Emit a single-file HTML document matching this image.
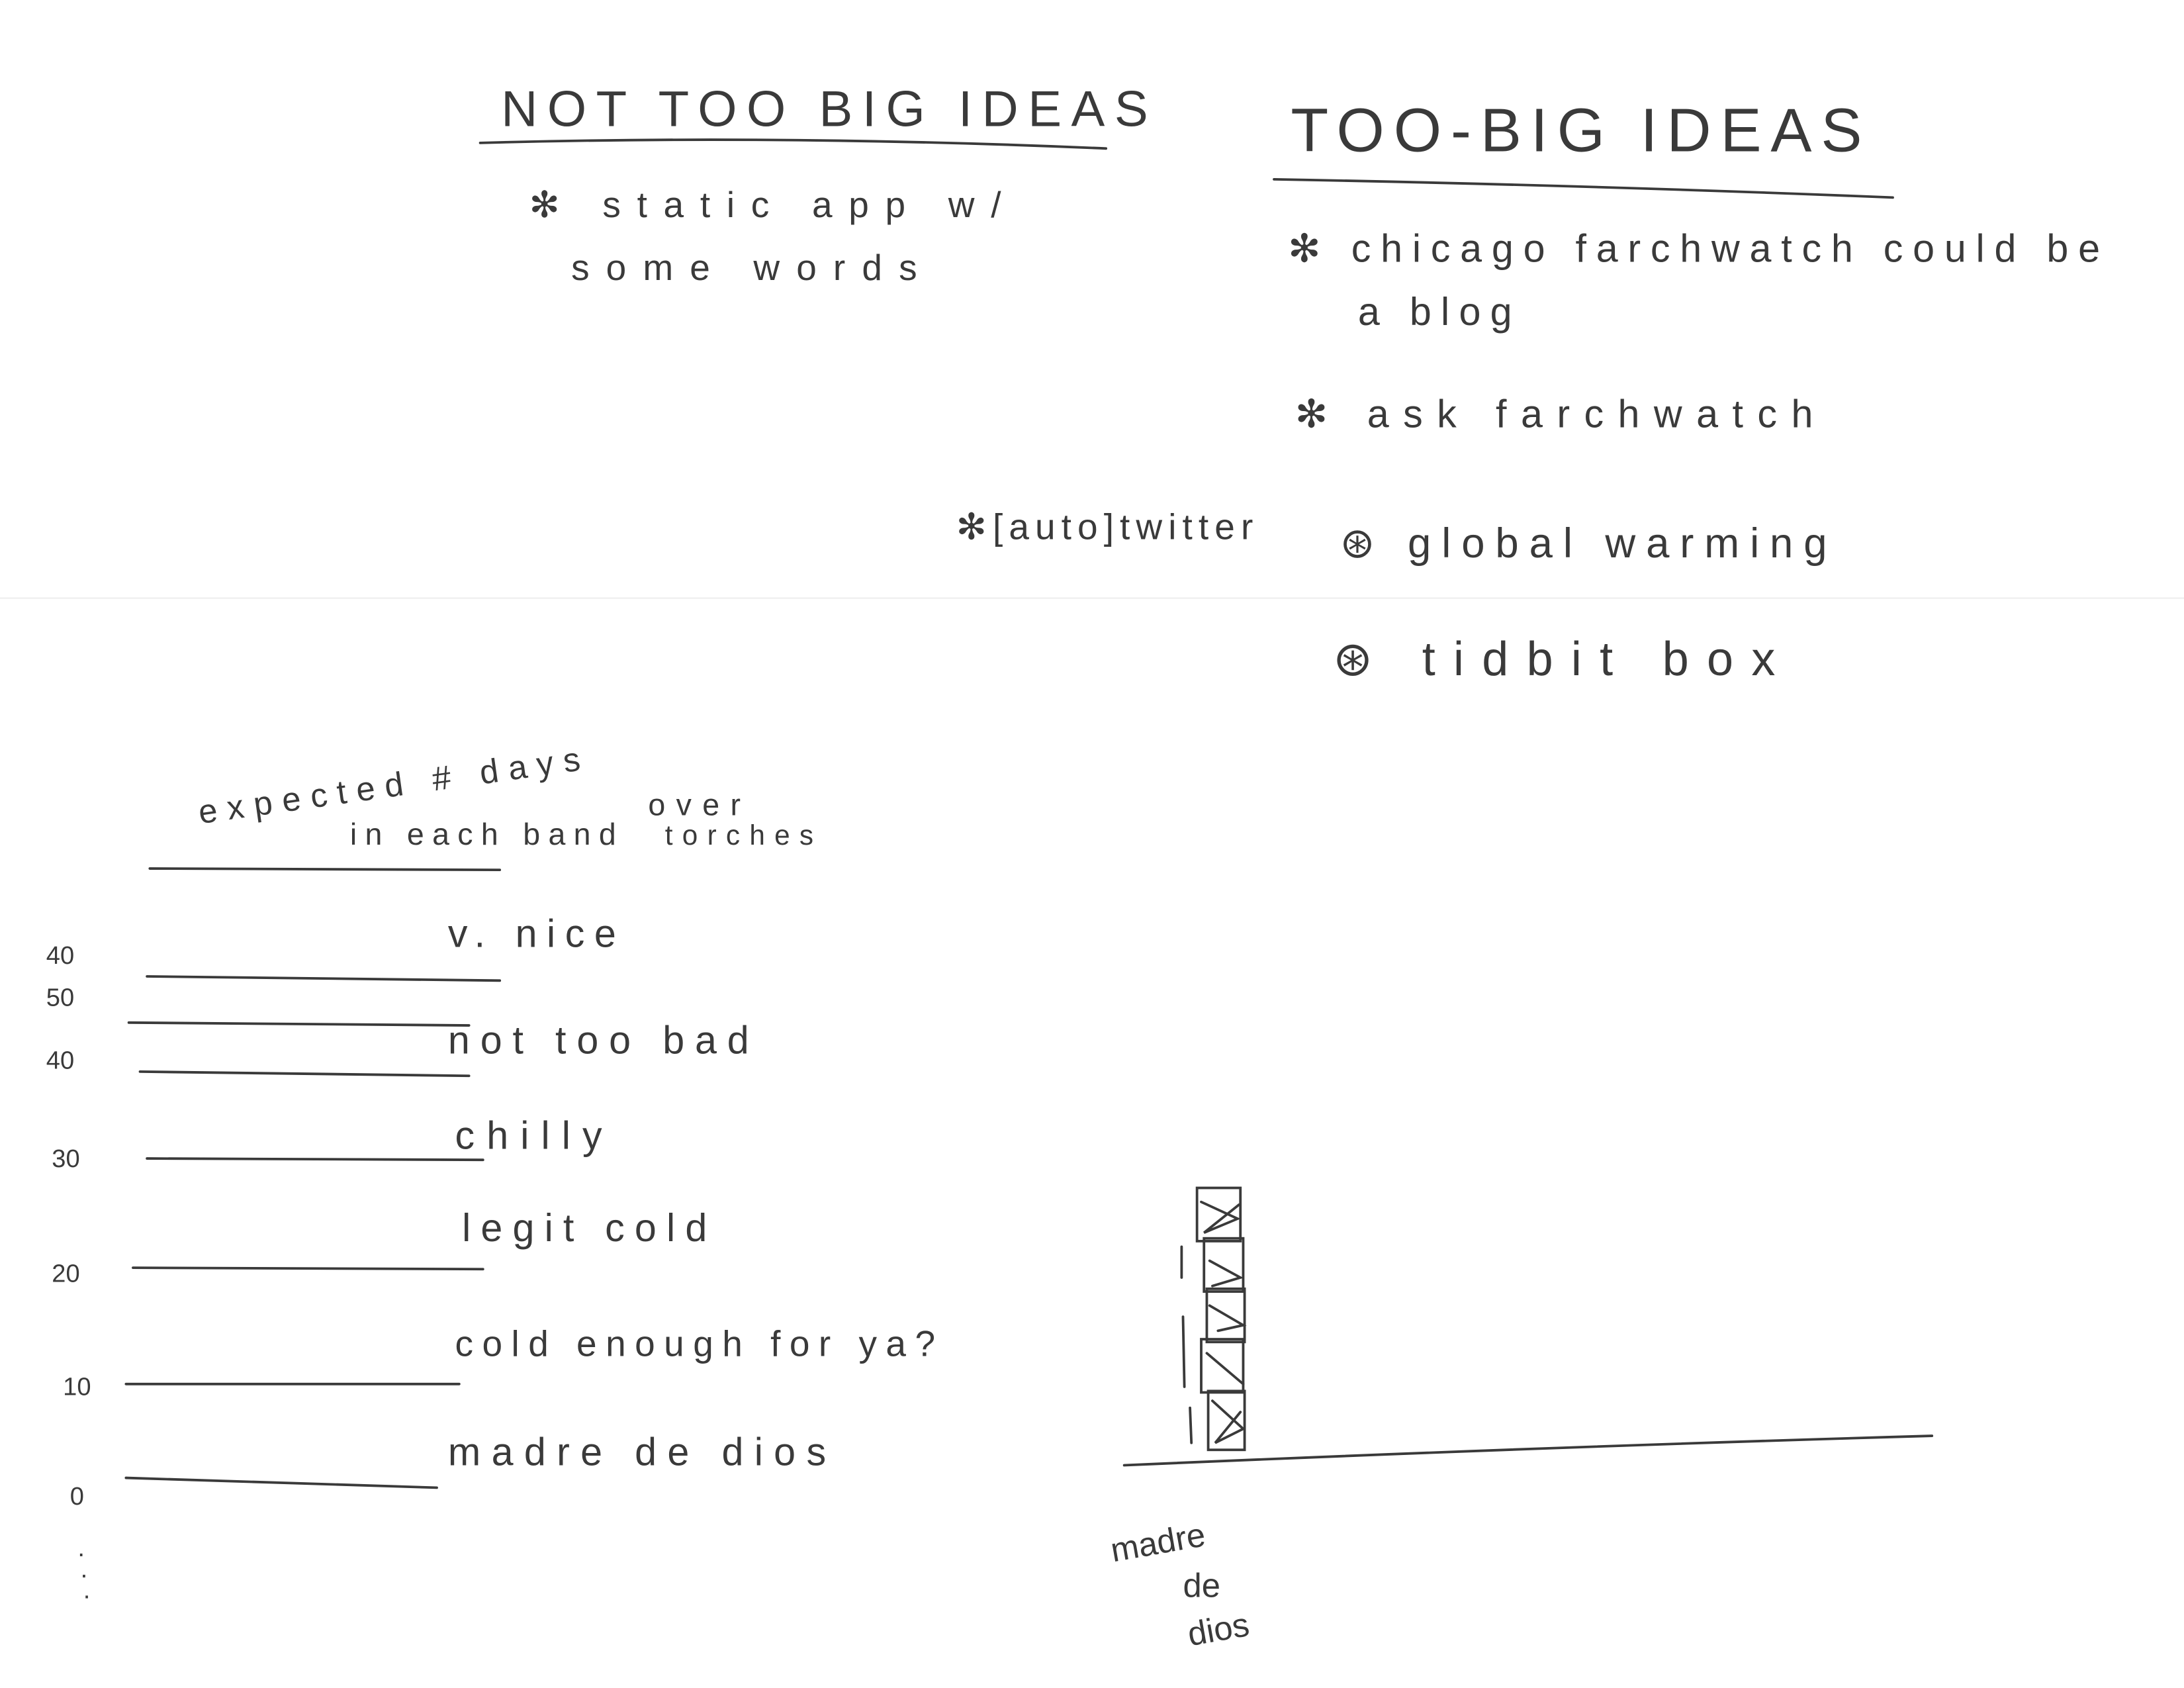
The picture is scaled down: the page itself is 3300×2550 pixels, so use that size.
<!DOCTYPE html>
<html><head><meta charset="utf-8"><style>
html,body{margin:0;padding:0;background:#fff;}
svg{display:block;}
text{font-family:"Liberation Sans",sans-serif;fill:#3a3a3a;font-weight:normal;}
</style></head><body>
<svg width="3300" height="2550" viewBox="0 0 1560 1205" preserveAspectRatio="none" xmlns="http://www.w3.org/2000/svg">
<rect width="1560" height="1205" fill="#fff"/>
<g stroke="#3a3a3a" stroke-width="1.8" fill="none" stroke-linecap="round">
<path d="M343 102 Q560 96 790 106"/>
<path d="M910 128 Q1130 132 1352 141"/>
<path d="M107 620 L357 621"/>
<path d="M105 697 L357 700"/>
<path d="M92 730 L335 732"/>
<path d="M100 765 L335 768"/>
<path d="M105 827 L345 828"/>
<path d="M95 905 L345 906"/>
<path d="M90 988 L328 988"/>
<path d="M90 1055 Q200 1058 312 1062"/>
<path d="M803 1046 Q1100 1033 1380 1025"/>
<rect x="855" y="848" width="31" height="38"/>
<rect x="860" y="884" width="28" height="38"/>
<rect x="862" y="920" width="27" height="38"/>
<rect x="858" y="956" width="30" height="38"/>
<rect x="863" y="993" width="26" height="42"/>
<path d="M858 858 L884 870 L860 880 L885 860 M864 900 L886 912 L866 918 M864 932 L888 946 L870 950 M862 966 L888 988 M866 1000 L888 1020 L868 1030 L886 1008"/>
<path d="M844 890 L844 912 M845 940 L846 990 M850 1005 L851 1030"/>
</g>
<line x1="0" y1="427" x2="1560" y2="427" stroke="#eee" stroke-width="1"/>
<text x="358" y="90" font-size="36" textLength="462" lengthAdjust="spacing">NOT TOO BIG IDEAS</text>
<text x="378" y="155" font-size="26" textLength="337" lengthAdjust="spacing">✻  static  app  w/</text>
<text x="408" y="200" font-size="26" textLength="247" lengthAdjust="spacing">some   words</text>
<text x="922" y="108" font-size="44" textLength="408" lengthAdjust="spacing">TOO-BIG  IDEAS</text>
<text x="920" y="187" font-size="28" textLength="580" lengthAdjust="spacing">✻  chicago farchwatch  could be</text>
<text x="970" y="232" font-size="28" textLength="110" lengthAdjust="spacing">a  blog</text>
<text x="925" y="305" font-size="28" textLength="370" lengthAdjust="spacing">✻  ask   farchwatch</text>
<text x="683" y="385" font-size="26" textLength="212" lengthAdjust="spacing">✻[auto]twitter</text>
<text x="957" y="398" font-size="30" textLength="348" lengthAdjust="spacing">⊛  global   warming</text>
<text x="952" y="482" font-size="34" textLength="316" lengthAdjust="spacing">⊛  tidbit   box</text>
<text x="143" y="588" font-size="24" transform="rotate(-8 143 588)" textLength="275" lengthAdjust="spacing">expected #  days</text>
<text x="250" y="603" font-size="22" textLength="190" lengthAdjust="spacing">in each band</text>
<text x="463" y="582" font-size="22" textLength="66" lengthAdjust="spacing">over</text>
<text x="475" y="603" font-size="20" textLength="106" lengthAdjust="spacing">torches</text>
<text x="320" y="676" font-size="28" textLength="120" lengthAdjust="spacing">v. nice</text>
<text x="320" y="752" font-size="28" textLength="215" lengthAdjust="spacing">not  too  bad</text>
<text x="325" y="820" font-size="28" textLength="105" lengthAdjust="spacing">chilly</text>
<text x="330" y="886" font-size="28" textLength="175" lengthAdjust="spacing">legit  cold</text>
<text x="325" y="968" font-size="26" textLength="343" lengthAdjust="spacing">cold enough  for  ya?</text>
<text x="320" y="1046" font-size="28" textLength="270" lengthAdjust="spacing">madre  de  dios</text>
<g font-size="18">
<text x="33" y="688">40</text><text x="33" y="718">50</text><text x="33" y="763">40</text>
<text x="37" y="833">30</text><text x="37" y="915">20</text><text x="45" y="996">10</text>
<text x="50" y="1074">0</text><text x="55" y="1115">·</text><text x="57" y="1130">·</text><text x="59" y="1145">·</text>
</g>
<text x="795" y="1115" font-size="24" transform="rotate(-10 795 1115)">madre</text>
<text x="845" y="1140" font-size="24">de</text>
<text x="850" y="1175" font-size="24" transform="rotate(-10 850 1175)">dios</text>
</svg>
</body></html>
